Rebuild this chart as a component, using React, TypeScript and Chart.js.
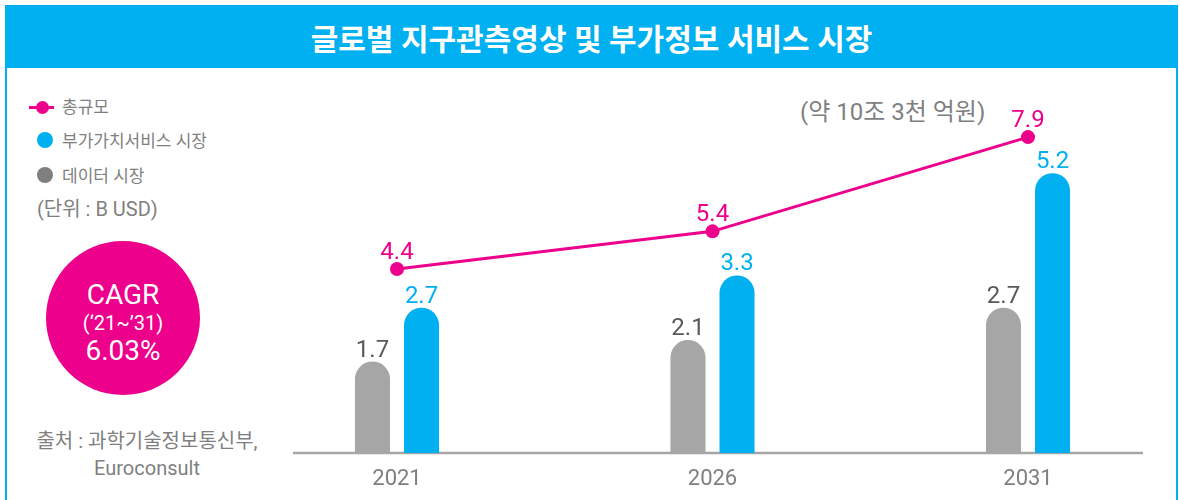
import React, { useEffect, useRef } from "react";
import { Chart, registerables } from "chart.js";

Chart.register(...registerables);

const FONT = "Roboto, 'Noto Sans CJK KR', 'Noto Sans', sans-serif";

const categories = ["2021", "2026", "2031"];
const dataMarket = [1.7, 2.1, 2.7];
const serviceMarket = [2.7, 3.3, 5.2];
const totalMarket = [4.4, 5.4, 7.9];

const PINK = "#EC008C";
const BLUE = "#00B0F0";
const GRAY_BAR = "#A6A6A6";
const GRAY_TEXT = "#7F7F7F";
const DARK_LABEL = "#595959";

const valueLabels = {
  id: "valueLabels",
  afterDatasetsDraw(chart: any) {
    const ctx = chart.ctx;
    chart.data.datasets.forEach((ds: any, i: number) => {
      const meta = chart.getDatasetMeta(i);
      if (meta.hidden) return;
      ctx.save();
      ctx.font = `400 24px ${FONT}`;
      ctx.fillStyle = ds.labelColor;
      ctx.textAlign = "center";
      ctx.textBaseline = "alphabetic";
      meta.data.forEach((el: any, j: number) => {
        const off = meta.type === "line" ? 10 : 5;
        ctx.fillText(Number(ds.data[j]).toFixed(1), el.x, el.y - off);
      });
      ctx.restore();
    });
  },
};

const baseLine = {
  id: "baseLine",
  beforeDatasetsDraw(chart: any) {
    const ctx = chart.ctx;
    const x = chart.scales.x;
    const y = chart.scales.y.getPixelForValue(0);
    ctx.save();
    ctx.strokeStyle = GRAY_BAR;
    ctx.lineWidth = 2.5;
    ctx.beginPath();
    ctx.moveTo(x.left - 104, y);
    ctx.lineTo(x.right + 115, y);
    ctx.stroke();
    ctx.restore();
  },
};

export default function App() {
  const ref = useRef<HTMLCanvasElement>(null);

  useEffect(() => {
    if (!ref.current) return;
    const chart = new Chart(ref.current, {
      type: "bar",
      data: {
        labels: categories,
        datasets: [
          {
            type: "line",
            label: "총규모",
            data: totalMarket,
            borderColor: PINK,
            backgroundColor: PINK,
            borderWidth: 3,
            pointRadius: 7,
            pointBackgroundColor: PINK,
            pointBorderWidth: 0,
            yAxisID: "y1",
            order: 0,
            clip: false,
            labelColor: PINK,
          } as any,
          {
            type: "bar",
            label: "데이터 시장",
            data: dataMarket,
            backgroundColor: GRAY_BAR,
            borderRadius: 18,
            borderSkipped: "start",
            barPercentage: 0.714,
            categoryPercentage: 0.311,
            yAxisID: "y",
            order: 1,
            clip: false,
            labelColor: DARK_LABEL,
          } as any,
          {
            type: "bar",
            label: "부가가치서비스 시장",
            data: serviceMarket,
            backgroundColor: BLUE,
            borderRadius: 18,
            borderSkipped: "start",
            barPercentage: 0.714,
            categoryPercentage: 0.311,
            yAxisID: "y",
            order: 1,
            clip: false,
            labelColor: BLUE,
          } as any,
        ],
      },
      options: {
        responsive: false,
        animation: false,
        layout: { padding: { left: 397, right: 152, top: 76.4, bottom: 0 } },
        plugins: {
          legend: { display: false },
          tooltip: { enabled: false },
          title: { display: false },
        },
        scales: {
          x: {
            offset: false,
            grid: { display: false, drawTicks: false },
            border: { display: false },
            ticks: {
              color: GRAY_TEXT,
              font: { family: FONT, size: 22 },
              padding: 13,
              maxRotation: 0,
            },
            afterFit: (scale: any) => {
              scale.height = 47;
            },
          },
          y: {
            display: false,
            min: 0,
            max: 7,
          },
          y1: {
            display: false,
            min: -0.48,
            max: 9.51,
          },
        },
      } as any,
      plugins: [baseLine, valueLabels],
    });
    return () => chart.destroy();
  }, []);

  const abs = (left: number, top: number, extra: React.CSSProperties = {}): React.CSSProperties => ({
    position: "absolute",
    left,
    top,
    transform: "translateY(-50%)",
    lineHeight: 1,
    whiteSpace: "nowrap",
    ...extra,
  });

  return (
    <div
      style={{
        position: "absolute",
        left: 0,
        top: 0,
        width: 1180,
        height: 500,
        overflow: "hidden",
        background: "#fff",
        fontFamily: FONT,
      }}
    >
      <div
        style={{
          position: "absolute",
          left: 5,
          top: 5,
          width: 1173,
          height: 540,
          border: `2.5px solid ${BLUE}`,
          boxSizing: "border-box",
        }}
      />
      <div
        style={{
          position: "absolute",
          left: 5,
          top: 5,
          width: 1173,
          height: 63,
          background: BLUE,
          color: "#fff",
          fontSize: 30,
          fontWeight: 700,
          display: "flex",
          alignItems: "center",
          justifyContent: "center",
        }}
      >
        글로벌 지구관측영상 및 부가정보 서비스 시장
      </div>

      {/* legend */}
      <div style={{ position: "absolute", left: 29, top: 106, width: 25, height: 3, background: PINK }} />
      <div
        style={{
          position: "absolute",
          left: 36,
          top: 101,
          width: 13,
          height: 13,
          borderRadius: "50%",
          background: PINK,
        }}
      />
      <div style={abs(62, 107, { fontSize: 17, color: GRAY_TEXT })}>총규모</div>
      <div
        style={{
          position: "absolute",
          left: 37,
          top: 132,
          width: 16,
          height: 16,
          borderRadius: "50%",
          background: BLUE,
        }}
      />
      <div style={abs(62, 141, { fontSize: 17, color: GRAY_TEXT })}>부가가치서비스 시장</div>
      <div
        style={{
          position: "absolute",
          left: 37,
          top: 167,
          width: 16,
          height: 16,
          borderRadius: "50%",
          background: GRAY_TEXT,
        }}
      />
      <div style={abs(62, 176, { fontSize: 17, color: GRAY_TEXT })}>데이터 시장</div>
      <div style={abs(37, 209, { fontSize: 20, color: GRAY_TEXT })}>(단위 : B USD)</div>

      {/* CAGR circle */}
      <div
        style={{
          position: "absolute",
          left: 46,
          top: 241,
          width: 154,
          height: 154,
          borderRadius: "50%",
          background: PINK,
        }}
      />
      <div style={abs(46, 295, { width: 154, textAlign: "center", color: "#fff", fontSize: 28 })}>CAGR</div>
      <div style={abs(46, 323, { width: 154, textAlign: "center", color: "#fff", fontSize: 20 })}>
        (‘21~’31)
      </div>
      <div style={abs(46, 351, { width: 154, textAlign: "center", color: "#fff", fontSize: 28 })}>6.03%</div>

      {/* source */}
      <div style={abs(0, 441, { width: 294, textAlign: "center", color: GRAY_TEXT, fontSize: 20 })}>
        출처 : 과학기술정보통신부,
      </div>
      <div style={abs(0, 468, { width: 294, textAlign: "center", color: GRAY_TEXT, fontSize: 20 })}>
        Euroconsult
      </div>

      {/* annotation */}
      <div style={abs(800, 112, { color: GRAY_TEXT, fontSize: 24 })}>(약 10조 3천 억원)</div>

      <canvas
        ref={ref}
        width={1180}
        height={500}
        style={{ position: "absolute", left: 0, top: 0, width: 1180, height: 500 }}
      />
    </div>
  );
}
